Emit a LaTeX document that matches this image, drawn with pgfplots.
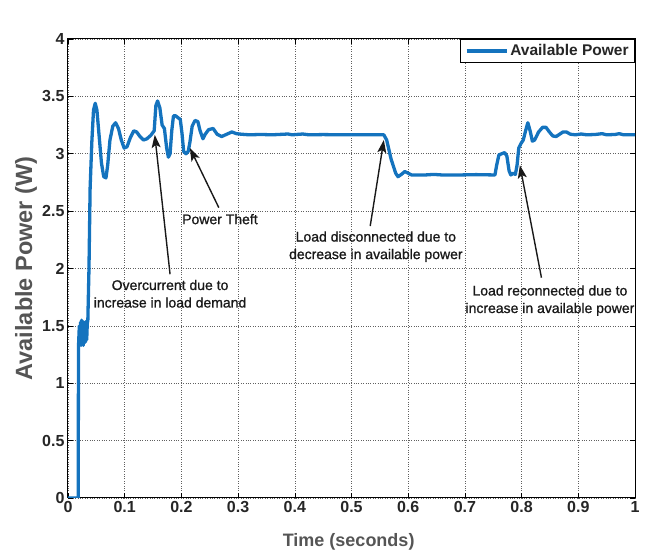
\documentclass[border=0pt]{standalone}
\usepackage{pgfplots}
\pgfplotsset{compat=1.18}
\usepackage{fontspec}
\setmainfont{Liberation Sans}
\newfontfamily\annfont[FakeBold=1.0]{Liberation Sans}
\usetikzlibrary{arrows.meta}
\definecolor{mblue}{RGB}{20,115,190}
\definecolor{lblgray}{RGB}{85,85,85}
\begin{document}
\begin{tikzpicture}
\begin{axis}[
  scale only axis,
  width=567pt, height=459pt,
  xmin=0, xmax=1, ymin=0, ymax=4,
  xtick={0,0.1,...,1.0}, ytick={0,0.5,...,4},
  xticklabels={0,0.1,0.2,0.3,0.4,0.5,0.6,0.7,0.8,0.9,1},
  yticklabels={0,0.5,1,1.5,2,2.5,3,3.5,4},
  xtick pos=both, ytick pos=both,
  xticklabel pos=lower, yticklabel pos=left,
  tick align=inside,
  major tick length=5pt,
  tick style={black, line width=0.6pt},
  grid=major,
  major grid style={dotted, gray!75!black, line width=0.6pt},
  axis line style={black, line width=1pt},
  /pgf/number format/assume math mode=true,
  tick label style={font=\bfseries\fontsize{16}{16}\selectfont, text=black!85},
  xlabel={Time (seconds)},
  ylabel={Available Power (W)},
  xlabel style={font=\bfseries\fontsize{18}{18}\selectfont, text=lblgray, at={(axis description cs:0.495,-0.0959)}, anchor=center},
  ylabel style={font=\bfseries\fontsize{23.5}{23.5}\selectfont, text=lblgray, at={(axis description cs:-0.074,0.5)}, anchor=center},
  legend style={at={(rel axis cs:1,1)}, anchor=north east, draw=black, line width=0.8pt,
    font=\bfseries\fontsize{15.5}{15.5}\selectfont, inner xsep=4pt, inner ysep=3pt, text=black!85},
  legend image code/.code={\draw[#1, line width=3.5pt] (0pt,0pt) -- (40pt,0pt);},
]
\addplot[mblue, line width=3.3pt, line join=round] coordinates {
(0,0) (0.018,0) (0.0185,1.32) (0.020,1.50) (0.021,1.34) (0.022,1.53) (0.023,1.33) (0.024,1.55) (0.025,1.34) (0.026,1.54) (0.027,1.33) (0.028,1.52)
(0.029,1.35) (0.030,1.53) (0.031,1.36) (0.032,1.54) (0.033,1.38) (0.034,1.52) (0.035,1.55) (0.037,2.00) (0.039,2.70) (0.042,3.10)
(0.045,3.38) (0.048,3.44) (0.051,3.38) (0.055,3.15) (0.059,2.92) (0.063,2.80) (0.067,2.79)
(0.070,2.90) (0.074,3.12) (0.079,3.24) (0.084,3.27) (0.089,3.22) (0.094,3.12) (0.099,3.05)
(0.104,3.06) (0.110,3.14) (0.116,3.20) (0.121,3.19) (0.127,3.15) (0.133,3.12) (0.139,3.13)
(0.146,3.16) (0.152,3.20) (0.155,3.42) (0.158,3.46) (0.162,3.40) (0.166,3.25) (0.170,3.22)
(0.174,3.05) (0.177,2.97) (0.180,3.00) (0.183,3.20) (0.186,3.33) (0.190,3.33) (0.195,3.31)
(0.198,3.30) (0.201,3.18) (0.204,3.02) (0.208,3.00) (0.212,3.02) (0.215,3.10) (0.219,3.24)
(0.224,3.29) (0.229,3.28) (0.233,3.20) (0.238,3.13) (0.242,3.17) (0.248,3.21) (0.256,3.22)
(0.263,3.17) (0.271,3.15) (0.280,3.17) (0.289,3.19) (0.297,3.175) (0.306,3.17) (0.320,3.165)
(0.340,3.168) (0.360,3.165) (0.388,3.172) (0.395,3.165) (0.414,3.172) (0.425,3.165) (0.450,3.167)
(0.480,3.165) (0.510,3.166) (0.540,3.165) (0.557,3.165) (0.562,3.12) (0.570,2.95) (0.578,2.83)
(0.582,2.80) (0.588,2.82) (0.594,2.845) (0.600,2.83) (0.606,2.815) (0.630,2.815) (0.645,2.82)
(0.660,2.815) (0.690,2.815) (0.720,2.818) (0.753,2.815) (0.756,2.90) (0.760,2.99) (0.765,3.00)
(0.770,3.01) (0.774,2.98) (0.778,2.85) (0.781,2.815) (0.785,2.83) (0.789,2.82) (0.792,2.90)
(0.795,3.05) (0.799,3.09) (0.803,3.12) (0.807,3.20) (0.811,3.27) (0.815,3.20) (0.819,3.11)
(0.823,3.12) (0.830,3.19) (0.837,3.23) (0.843,3.23) (0.849,3.19) (0.855,3.155) (0.861,3.15)
(0.867,3.17) (0.873,3.19) (0.879,3.19) (0.886,3.17) (0.895,3.165) (0.905,3.172) (0.915,3.165)
(0.930,3.168) (0.942,3.175) (0.950,3.165) (0.965,3.168) (0.972,3.175) (0.980,3.165) (1.0,3.165)
};
\addlegendentry{Available Power}
\node[anchor=south west, inner sep=0pt, font=\fontsize{16}{16}\selectfont, text=black!85] at (rel axis cs:0,1) [yshift=7pt] {\bfseries x 10\raisebox{9pt}{\mdseries\fontsize{11}{11}\selectfont 6}};
\tikzset{ann/.style={-{Stealth[length=13pt,width=9pt,inset=3pt]}, black!90, line width=1.4pt},
  annt/.style={font=\annfont\fontsize{14}{17.5}\selectfont, align=center, text=black!90, inner sep=0pt}}
\draw[ann] (axis cs:0.180,1.95) -- (axis cs:0.153,3.165);
\draw[ann] (axis cs:0.266,2.53) -- (axis cs:0.215,3.05);
\draw[ann] (axis cs:0.533,2.37) -- (axis cs:0.557,3.12);
\draw[ann] (axis cs:0.835,1.92) -- (axis cs:0.797,2.90);
\node[annt] at (axis cs:0.268,2.43) {Power Theft};
\node[annt] at (axis cs:0.18,1.78) {Overcurrent due to\\increase in load demand};
\node[annt] at (axis cs:0.543,2.19) {Load disconnected due to\\decrease in available power};
\node[annt] at (axis cs:0.85,1.72) {Load reconnected due to\\increase in available power};
\coordinate (bl) at (rel axis cs:0,0);
\coordinate (tr) at (rel axis cs:1,1);
\end{axis}
\pgfresetboundingbox
\path[use as bounding box] ([xshift=-68pt,yshift=-55pt]bl) rectangle ([xshift=11pt,yshift=39pt]tr);
\end{tikzpicture}
\end{document}
